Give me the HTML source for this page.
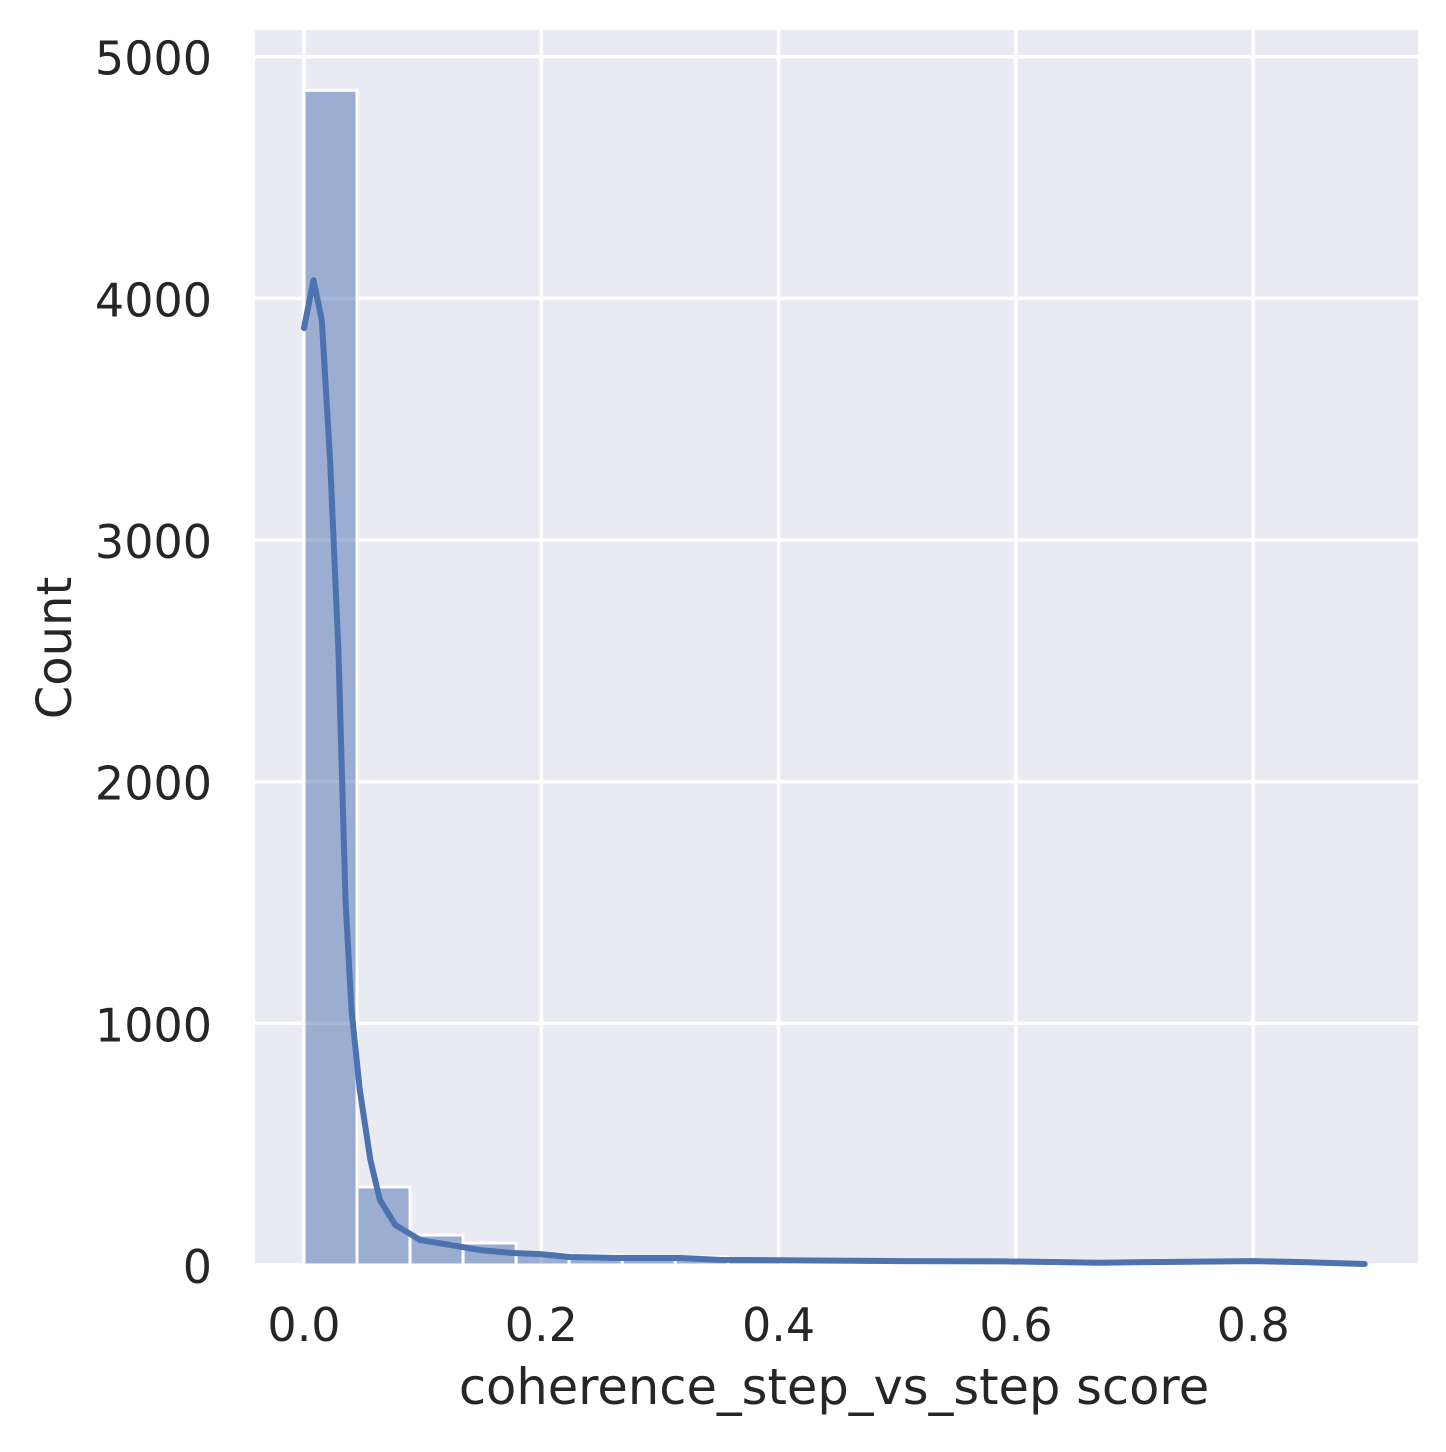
<!DOCTYPE html>
<html><head><meta charset="utf-8"><style>
html,body{margin:0;padding:0;background:#fff;}
svg text{font-family:"DejaVu Sans","Liberation Sans",sans-serif;fill:#262626;}
</style></head><body>
<svg id="chart" width="1446" height="1447" viewBox="0 0 1446 1447" xmlns="http://www.w3.org/2000/svg">
<rect x="255" y="30" width="1163" height="1235" fill="#eaeaf2"/>
<g id="grid"></g><g id="bars"></g><g id="kde"></g><g id="ticks"></g>
<text x="834" y="1404" font-size="49.5" text-anchor="middle">coherence_step_vs_step score</text>
<text transform="translate(71,648) rotate(-90)" font-size="48" text-anchor="middle">Count</text>
</svg>
<script>
const binStart = 0, binWidth = 0.0447;
const counts = [4861, 323, 124, 91, 45, 41, 33, 33, 25, 10, 8, 6, 5, 4, 3, 4, 3, 4, 4, 2];
const xTicks = [0.0, 0.2, 0.4, 0.6, 0.8];
const xTickLabels = ["0.0", "0.2", "0.4", "0.6", "0.8"];
const yTicks = [0, 1000, 2000, 3000, 4000, 5000];
const yTickLabels = ["0", "1000", "2000", "3000", "4000", "5000"];
const kdeX = [0, 0.008, 0.015, 0.022, 0.029, 0.035, 0.04, 0.047, 0.056, 0.064, 0.077, 0.098, 0.123, 0.148, 0.174, 0.199, 0.224, 0.266, 0.317, 0.35, 0.4, 0.5, 0.59, 0.637, 0.67, 0.712, 0.8, 0.842, 0.894];
const kdeY = [3877, 4075, 3910, 3330, 2545, 1510, 1055, 724, 434, 269, 165, 103, 83, 62, 50, 45, 33, 29, 29, 21, 20, 16, 15, 12, 9, 12, 16, 12, 4];
const NS = "http://www.w3.org/2000/svg";
const sx = v => 304 + v * 1186.5;
const sy = v => 1265 - v * 0.24166;
function mk(tag, attrs, parent){const e=document.createElementNS(NS,tag);for(const k in attrs)e.setAttribute(k,attrs[k]);parent.appendChild(e);return e;}
const grid=document.getElementById('grid'), bars=document.getElementById('bars'), kde=document.getElementById('kde'), ticks=document.getElementById('ticks');
xTicks.forEach((t,i)=>{
  const l=mk('line',{x1:sx(t),x2:sx(t),y1:30,y2:1265,stroke:'#fff','stroke-width':3.5},grid);
  
  
  const tx=mk('text',{x:sx(t),y:1341,'font-size':46,'text-anchor':'middle'},ticks);
  tx.textContent=xTickLabels[i];
  
  
});
yTicks.forEach((t,i)=>{
  const l=mk('line',{x1:255,x2:1418,y1:sy(t),y2:sy(t),stroke:'#fff','stroke-width':3.5},grid);
  
  
  const tx=mk('text',{x:212,y:sy(t)+18,'font-size':46,'text-anchor':'end'},ticks);
  tx.textContent=yTickLabels[i];
  
  
});
counts.forEach((c,i)=>{
  const x0=sx(binStart+i*binWidth), x1=sx(binStart+(i+1)*binWidth);
  const r=mk('rect',{x:x0,y:sy(c),width:x1-x0,height:sy(0)-sy(c),fill:'#4c72b0','fill-opacity':0.5,stroke:'#fff','stroke-width':3},bars);
  
  
});
const d=kdeX.map((x,i)=>(i?'L':'M')+sx(x).toFixed(1)+' '+sy(kdeY[i]).toFixed(1)).join(' ');
const p=mk('path',{d:d,fill:'none',stroke:'#4c72b0','stroke-width':6,'stroke-linejoin':'round','stroke-linecap':'round'},kde);


</script>
</body></html>
